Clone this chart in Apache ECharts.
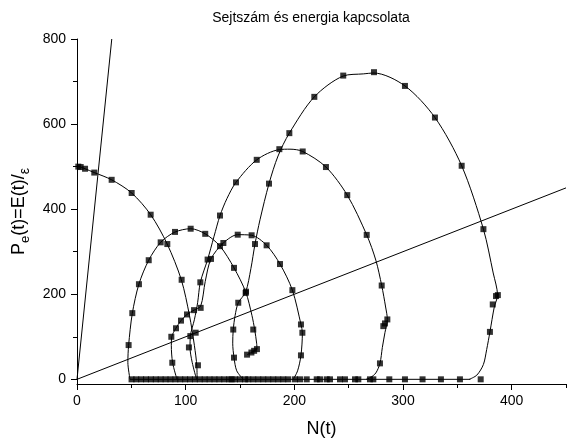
<!DOCTYPE html>
<html>
<head>
<meta charset="utf-8">
<script src="https://cdn.jsdelivr.net/npm/echarts@6/dist/echarts.min.js"></script>
<style>html,body{margin:0;padding:0;background:#fff}#c{width:570px;height:443px}</style>
</head>
<body>
<div id="c"></div>
<script>
const titleText = 'Sejtszám és energia kapcsolata';
const xMajorTicks = [0, 100, 200, 300, 400];
const xMinorTicks = [50, 150, 250, 350, 450];
const yMajorTicks = [0, 200, 400, 600, 800];
const yMinorTicks = [100, 300, 500, 700];

const steepLine = [[0, 0], [32, 800]];
const diagLine = [[0, 0], [450, 450]];
const flatLine = [[48.8, 0], [362, 0]];

const curveA = [[0,501],[3.4,499],[7.4,495],[15.9,486],[31.9,469],[50.3,438],[67.8,387],[83,318],[96,234],[103.5,150],[108,80],[110.3,30],[110.5,0]];
const curveB = [[48.8,0],[46.8,40],[47.5,80],[50.9,155],[57,224],[66,280],[77,322],[90,346],[104.6,354],[118,342],[131.6,313],[144.5,262],[155.3,205],[161,150],[163.5,117],[165.3,85],[165.6,71],[163,67],[160.5,63],[156.5,58]];
const curveC = [[92,0],[88,39],[86.8,80],[87.2,100],[91,120],[95.7,138],[101.2,152.5],[107.7,162.6],[113.8,172],[118,230],[123.3,283],[134.7,320.5],[147.9,340],[160.7,338.6],[174.5,315],[186.8,271],[198.2,209.6],[206.1,129],[207.4,109.5],[206.1,56.3],[203,20],[199,0]];
const curveD = [[110,0],[106,40],[104,75],[104.3,101.6],[108,140],[111,180],[113.5,228],[120.2,281.5],[126,335],[131.6,385],[138,425],[146.3,463],[165.4,516],[186.2,540],[196,541],[207.7,535.6],[229.1,499],[248.7,433],[266.6,339.5],[275,280],[280.4,220.5],[284,170],[285.6,140.8],[283.4,110],[281,75],[278.8,37.5],[275,15],[270,4],[266,0]];
const curveE = [[153,0],[147,20],[144.5,51],[143.3,85],[143.8,117],[145.5,150],[148.4,180],[155.2,205],[160,260],[163.8,318],[168.4,375],[176.7,460],[185,525],[195.4,578.7],[218.4,664],[245,713],[263.5,718],[273.3,720],[301.8,689.7],[329.4,615.4],[354,502],[374,353],[383,250],[387,198],[384,170],[380,111.5],[377,70],[374,35],[368,10],[361,0]];

const markersA = [[1.2,500],[3.4,499],[7.4,495],[15.9,486],[31.9,469],[50.3,438],[67.8,387],[83.1,318],[96.3,234],[111.3,33]];
const markersB = [[47.5,80.5],[50.9,155.6],[57,223.6],[66,280],[77,322],[90.2,346.5],[104.6,354],[118,342],[131.6,313],[144.5,262],[155.2,203],[162.2,117],[165.6,71],[163,67],[160.5,63],[156.5,58]];
const markersC = [[87.7,39],[86.8,100],[91.1,120],[95.7,138],[101.2,152.5],[107.7,162.6],[113.8,168],[123.3,283],[134.7,320.5],[147.9,340],[160.7,338.6],[174.5,315],[186.8,271],[198.2,209.6],[206.1,129],[207.4,109.5],[206.1,56.3]];
const markersD = [[103,75],[104.3,101.6],[109.2,109.6],[113.5,228],[120.2,281.5],[131.6,385],[146.3,463],[165.4,516],[186.2,541],[207.7,535.6],[229.1,499],[248.7,433],[266.6,339.5],[280.4,220.5],[285.6,140.8],[283.4,131.4],[281.9,125],[278.8,37.5]];
const markersE = [[144.5,51],[143.8,117],[148.4,180],[155.5,206],[163.8,318],[176.7,460],[195.4,578.7],[218.4,664],[245,714],[273.3,722],[301.8,689.7],[329.4,615.4],[354,502],[374,353],[385.6,195.7],[387.3,198],[382.6,176],[380,111.5]];
const baselineMarkerX = [50.2,54.5,59,63.5,68,72.5,77,81.5,86,90.5,95,99.5,104,108.5,113,117.5,122,126.5,131,135.5,140,142.3,145.4,150,154.6,157.6,162.2,166.8,171.4,176,180.6,185.2,189.8,194.4,200.6,205.2,211.4,220.6,223.6,229.8,232.8,242,246.6,255.8,258.9,269.6,272.7,287.4,301.8,318,334.9,352.4,371.5];

const FONT = 'Liberation Sans, Arial, sans-serif';
const chart = echarts.init(document.getElementById('c'), null, {renderer: 'canvas'});

function lineSeries(data, smooth) {
  return {type: 'line', data: data, smooth: smooth, showSymbol: false, symbol: 'none',
    lineStyle: {color: '#000', width: 1}, silent: true, animation: false, z: 2};
}
function markSeries(data) {
  return {type: 'scatter', data: data, symbol: 'rect', symbolSize: 6,
    itemStyle: {color: '#000'}, silent: true, animation: false, z: 3};
}

const option = {
  animation: false,
  backgroundColor: '#fff',
  title: {text: titleText, left: 306, textAlign: 'center', top: 6,
    textStyle: {fontFamily: FONT, fontSize: 14, fontWeight: 'normal', color: '#000'}},
  grid: {left: 77, right: 4, top: 39, bottom: 58},
  xAxis: [
    {type: 'value', min: 0, max: 450, position: 'bottom',
      name: 'N(t)', nameLocation: 'middle', nameGap: 36,
      nameTextStyle: {fontFamily: FONT, fontSize: 18, color: '#000'},
      axisLine: {show: true, onZero: false, lineStyle: {color: '#000', width: 1}},
      axisTick: {show: true, length: 6, inside: false, customValues: xMajorTicks, lineStyle: {color: '#000'}},
      axisLabel: {customValues: xMajorTicks, fontFamily: FONT, fontSize: 14, color: '#000', margin: 10},
      splitLine: {show: false}},
    {type: 'value', min: 0, max: 450, position: 'bottom',
      axisLine: {show: false, onZero: false},
      axisTick: {show: true, length: 4, customValues: xMinorTicks, lineStyle: {color: '#000'}},
      axisLabel: {show: false}, splitLine: {show: false}}
  ],
  yAxis: [
    {type: 'value', min: -11, max: 800, position: 'left',
      name: '{p|P}{s|e}{p|(t)=E(t)/}{q|ε}', nameLocation: 'middle', nameRotate: 90, nameGap: 44,
      nameTextStyle: {fontFamily: FONT, color: '#000',
        rich: {
          p: {fontFamily: FONT, fontSize: 18, color: '#000', lineHeight: 26},
          s: {fontFamily: FONT, fontSize: 13, color: '#000', lineHeight: 13, verticalAlign: 'bottom'},
          q: {fontFamily: FONT, fontSize: 14, color: '#000', lineHeight: 21, verticalAlign: 'bottom'}
        }},
      axisLine: {show: true, onZero: false, lineStyle: {color: '#000', width: 1}},
      axisTick: {show: true, length: 6, customValues: yMajorTicks, lineStyle: {color: '#000'}},
      axisLabel: {customValues: yMajorTicks, fontFamily: FONT, fontSize: 14, color: '#000', margin: 11},
      splitLine: {show: false}},
    {type: 'value', min: -11, max: 800, position: 'left',
      axisLine: {show: false, onZero: false},
      axisTick: {show: true, length: 4, customValues: yMinorTicks, lineStyle: {color: '#000'}},
      axisLabel: {show: false}, splitLine: {show: false}}
  ],
  series: [
    lineSeries(steepLine, false),
    lineSeries(diagLine, false),
    lineSeries(flatLine, false),
    lineSeries(curveA, 0.3),
    lineSeries(curveB, 0.3),
    lineSeries(curveC, 0.3),
    lineSeries(curveD, 0.3),
    lineSeries(curveE, 0.3),
    markSeries(markersA),
    markSeries(markersB),
    markSeries(markersC),
    markSeries(markersD),
    markSeries(markersE),
    markSeries(baselineMarkerX.map(function (x) { return [x, 0]; }))
  ]
};
chart.setOption(option);
</script>
</body>
</html>
